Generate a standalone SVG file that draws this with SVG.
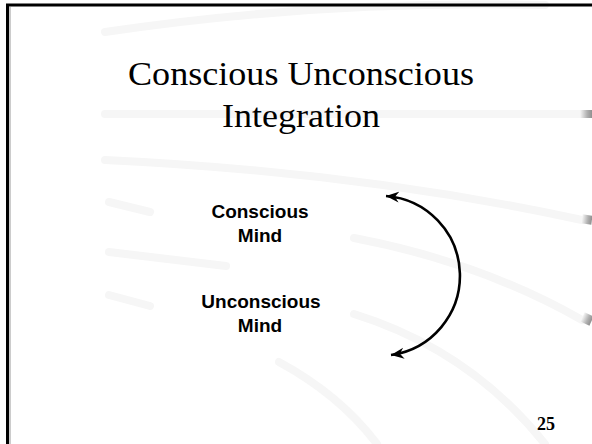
<svg xmlns="http://www.w3.org/2000/svg" width="592" height="444" viewBox="0 0 592 444">
  <style>
    .swoosh { fill: none; stroke: #f6f6f6; stroke-width: 8; stroke-linecap: round; }
    .title { font-family: "Liberation Serif", "Times New Roman", serif; font-size: 34px; fill: #000; text-anchor: middle; }
    .label { font-family: "Liberation Sans", Arial, sans-serif; font-size: 19px; font-weight: bold; fill: #000; text-anchor: middle; }
    .pagenum { font-family: "Liberation Serif", "Times New Roman", serif; font-size: 18px; font-weight: bold; fill: #000; }
    .conn { fill: none; stroke: #000; stroke-width: 2.6; }
  </style>
  <defs>
    <linearGradient id="stub" x1="0" y1="0" x2="1" y2="0">
      <stop offset="0" stop-color="#f6f6f6"/>
      <stop offset="0.6" stop-color="#b0b0b0"/>
      <stop offset="1" stop-color="#909090"/>
    </linearGradient>
    <marker id="arrow" markerUnits="userSpaceOnUse" markerWidth="15" markerHeight="12" refX="13" refY="0" viewBox="0 -6 15 12" orient="auto-start-reverse">
      <path d="M0,-5.5 L13,0 L0,5.5 L4,0 Z" fill="#000"/>
    </marker>
  </defs>
  <rect x="0" y="0" width="592" height="444" fill="#fff"/>

  <g id="background">
    <path class="swoosh" d="M105,32 Q320,0 545,5"/>
    <path class="swoosh" d="M105,114 L582,114"/>
    <path class="swoosh" d="M105,160 Q360,172 582,220"/>
    <path class="swoosh" d="M354,238 Q480,262 582,320"/>
    <path class="swoosh" d="M354,314 Q470,350 545,444"/>
    <path class="swoosh" d="M279,362 Q340,395 377,444"/>
    <path class="swoosh" d="M109,202 L150,212"/>
    <path class="swoosh" d="M109,252 L226,266"/>
    <path class="swoosh" d="M109,295 L150,306"/>
    <rect x="580" y="110" width="12" height="8" fill="url(#stub)"/>
    <rect x="582" y="215" width="10" height="9" fill="url(#stub)" transform="rotate(8 587 219)"/>
    <rect x="582" y="314" width="10" height="10" fill="url(#stub)" transform="rotate(25 587 319)"/>
  </g>

  <g id="frame">
    <path d="M7.5,444 V5 H592" fill="none" stroke="#000" stroke-width="3"/>
    <path d="M10,7 V444" fill="none" stroke="#999" stroke-width="1"/>
  </g>

  <g id="title">
    <text class="title" x="301" y="85" textLength="346" lengthAdjust="spacingAndGlyphs">Conscious Unconscious</text>
    <text class="title" x="301" y="127" textLength="158" lengthAdjust="spacingAndGlyphs">Integration</text>
  </g>

  <g id="conscious-mind">
    <text class="label" x="260" y="218">Conscious</text>
    <text class="label" x="260" y="242">Mind</text>
  </g>

  <g id="unconscious-mind">
    <text class="label" x="261" y="308">Unconscious</text>
    <text class="label" x="260" y="332">Mind</text>
  </g>

  <g id="connectors">
    <path class="conn" d="M386,196 A80,80 0 0 1 391,355" marker-start="url(#arrow)" marker-end="url(#arrow)"/>
  </g>

  <g id="page-number">
    <text class="pagenum" x="537" y="430">25</text>
  </g>
</svg>
